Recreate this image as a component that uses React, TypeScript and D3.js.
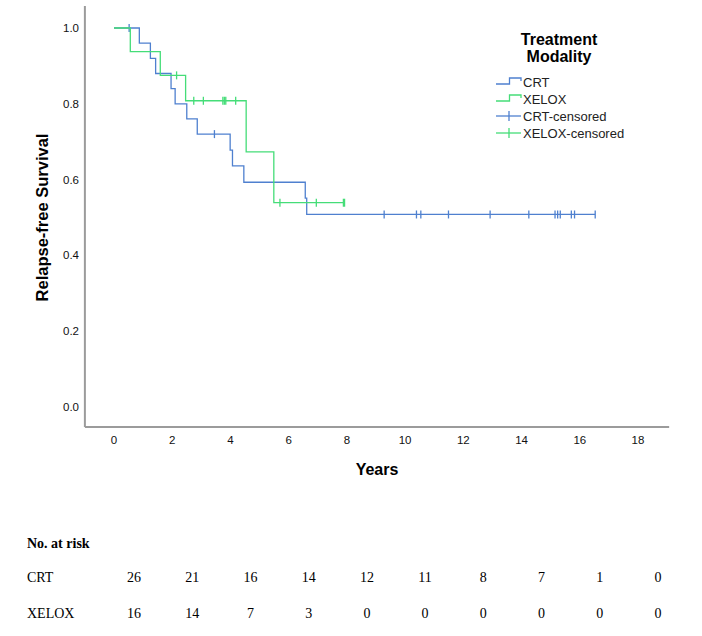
import React from "react";
import * as d3 from "d3";

// CRT Kaplan-Meier steps
const crtTimes = [0, 0.87, 1.25, 1.43, 1.96, 2.1, 2.5, 2.86, 3.99, 4.07, 4.46, 6.57, 6.62];
const crtSurv = [1, 0.96, 0.92, 0.88, 0.84, 0.8, 0.76, 0.72, 0.678, 0.636, 0.593, 0.551, 0.508];
const crtEnd = 16.53;
const crtCensored = [0.52, 3.45, 9.28, 10.39, 10.54, 11.49, 12.92, 14.25, 15.15, 15.24, 15.33, 15.71, 15.82, 16.53];

// XELOX Kaplan-Meier steps
const xeloxTimes = [0, 0.56, 1.59, 2.46, 4.54, 5.49];
const xeloxSurv = [1, 0.9375, 0.875, 0.808, 0.673, 0.539];
const xeloxEnd = 7.92;
const xeloxCensored = [2.15, 2.74, 3.07, 3.74, 3.79, 3.84, 4.18, 5.7, 6.95, 7.88, 7.92];

const xTicks = [0, 2, 4, 6, 8, 10, 12, 14, 16, 18];
const yTicks = [0, 0.2, 0.4, 0.6, 0.8, 1.0];

const riskTimes = [0, 2, 4, 6, 8, 10, 12, 14, 16, 18];
const riskCRT = [26, 21, 16, 14, 12, 11, 8, 7, 1, 0];
const riskXELOX = [16, 14, 7, 3, 0, 0, 0, 0, 0, 0];

const legendItems = ["CRT", "XELOX", "CRT-censored", "XELOX-censored"];

const BLUE = "#4f80cf";
const GREEN = "#45dd78";
const SANS = "Arial, 'Liberation Sans', sans-serif";
const SERIF = "'Times New Roman', 'Liberation Serif', serif";

export default function App() {
  const x = d3.scaleLinear().domain([0, 18]).range([114, 638]);
  const y = d3.scaleLinear().domain([0, 1]).range([407, 28]);

  const stepLine = d3
    .line<[number, number]>()
    .x((d) => x(d[0]))
    .y((d) => y(d[1]))
    .curve(d3.curveStepAfter);

  const survAt = (times: number[], surv: number[], t: number) => {
    let v = surv[0];
    for (let i = 0; i < times.length; i++) if (times[i] <= t) v = surv[i];
    return v;
  };

  const series = [
    { times: crtTimes, surv: crtSurv, end: crtEnd, cens: crtCensored, color: BLUE },
    { times: xeloxTimes, surv: xeloxSurv, end: xeloxEnd, cens: xeloxCensored, color: GREEN },
  ];

  const legendRowY = [82, 99, 116, 133];

  return (
    <svg
      width={702}
      height={636}
      style={{ position: "absolute", left: 0, top: 0, background: "#fff" }}
      fontFamily={SANS}
    >
      <rect x={0} y={0} width={702} height={636} fill="#fff" />
      {/* axes */}
      <line x1={x(-1)} x2={x(-1)} y1={y(1.058)} y2={y(-0.053)} stroke="#9b9b9b" strokeWidth={2} />
      <line x1={x(-1)} x2={x(19.07)} y1={y(-0.053)} y2={y(-0.053)} stroke="#9b9b9b" strokeWidth={2} />
      {yTicks.map((t) => (
        <text key={"y" + t} x={79} y={y(t)} textAnchor="end" dominantBaseline="central" fontSize={11.5} fill="#111">
          {t.toFixed(1)}
        </text>
      ))}
      {xTicks.map((t) => (
        <text key={"x" + t} x={x(t)} y={440} textAnchor="middle" dominantBaseline="central" fontSize={11.5} fill="#111">
          {t}
        </text>
      ))}
      <text
        transform={`translate(42, ${y(0.5)}) rotate(-90)`}
        textAnchor="middle"
        dominantBaseline="central"
        fontSize={16.5}
        fontWeight="bold"
      >
        Relapse-free Survival
      </text>
      <text x={377} y={469} textAnchor="middle" dominantBaseline="central" fontSize={16} fontWeight="bold">
        Years
      </text>

      {/* curves */}
      {series.map((s, i) => {
        const pts: [number, number][] = s.times.map((t, k) => [t, s.surv[k]]);
        pts.push([s.end, s.surv[s.surv.length - 1]]);
        return (
          <g key={"s" + i}>
            <path d={stepLine(pts) || ""} fill="none" stroke={s.color} strokeWidth={1.3} />
            {s.cens.map((c, k) => {
              const v = survAt(s.times, s.surv, c);
              return (
                <line
                  key={k}
                  x1={x(c)}
                  x2={x(c)}
                  y1={y(v) - 4}
                  y2={y(v) + 4}
                  stroke={s.color}
                  strokeWidth={1.3}
                />
              );
            })}
          </g>
        );
      })}

      {/* legend */}
      <text x={559} y={39} textAnchor="middle" dominantBaseline="central" fontSize={16} fontWeight="bold">
        Treatment
      </text>
      <text x={559} y={56} textAnchor="middle" dominantBaseline="central" fontSize={16} fontWeight="bold">
        Modality
      </text>
      {legendItems.map((name, i) => {
        const ly = legendRowY[i];
        const color = i % 2 === 0 ? BLUE : GREEN;
        return (
          <g key={name}>
            {i < 2 ? (
              <path
                d={`M496,${ly + 2}H509.5V${ly - 4}H521V${ly - 1}`}
                fill="none"
                stroke={color}
                strokeWidth={1.3}
              />
            ) : (
              <g>
                <line x1={496} x2={521} y1={ly} y2={ly} stroke={color} strokeWidth={1.3} />
                <line x1={509} x2={509} y1={ly - 5} y2={ly + 5} stroke={color} strokeWidth={1.3} />
              </g>
            )}
            <text x={523} y={ly} dominantBaseline="central" fontSize={13} fill="#222">
              {name}
            </text>
          </g>
        );
      })}

      {/* risk table */}
      <g fontFamily={SERIF} fontSize={14}>
        <text x={27} y={543} dominantBaseline="central" fontWeight="bold">
          No. at risk
        </text>
        <text x={27} y={577} dominantBaseline="central">
          CRT
        </text>
        <text x={27} y={613} dominantBaseline="central">
          XELOX
        </text>
        {riskTimes.map((t, i) => (
          <text key={"rc" + i} x={x(t) + 20} y={577} textAnchor="middle" dominantBaseline="central">
            {riskCRT[i]}
          </text>
        ))}
        {riskTimes.map((t, i) => (
          <text key={"rx" + i} x={x(t) + 20} y={613} textAnchor="middle" dominantBaseline="central">
            {riskXELOX[i]}
          </text>
        ))}
      </g>
    </svg>
  );
}
